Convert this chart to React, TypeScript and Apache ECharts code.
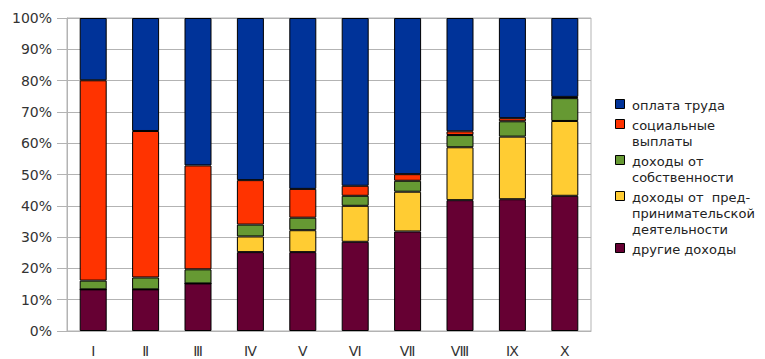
import React, { useEffect, useRef } from "react";
import * as echarts from "echarts";

// Income structure by decile group, percent of total income
const categories = ["Ⅰ", "Ⅱ", "Ⅲ", "Ⅳ", "Ⅴ", "Ⅵ", "Ⅶ", "Ⅷ", "Ⅸ", "Ⅹ"];

const otherIncome = [13.3, 13.3, 15.2, 25.2, 25.2, 28.5, 31.8, 41.8, 42.1, 43.2];
const businessIncome = [0, 0, 0, 5, 7, 11.5, 12.7, 16.9, 20, 23.9];
const propertyIncome = [2.8, 3.8, 4.5, 3.8, 4, 3.2, 3.5, 3.9, 4.9, 7.3];
const socialPayments = [64, 46.8, 33.2, 14.2, 9.2, 3.2, 2.1, 1.2, 1.0, 0.4];
const wages = [19.9, 36.1, 47.1, 51.8, 54.6, 53.6, 49.9, 36.2, 32, 25.2];

// Stack order, bottom to top
const seriesNames = [
  "другие доходы",
  "доходы от  пред-\nпринимательской\nдеятельности",
  "доходы от\nсобственности",
  "социальные\nвыплаты",
  "оплата труда",
];
const seriesData = [otherIncome, businessIncome, propertyIncome, socialPayments, wages];
const seriesColors = ["#660033", "#ffcc33", "#669933", "#ff3300", "#003399"];

const FONT = "'DejaVu Sans', Verdana, sans-serif";

function buildLegend(): any[] {
  const elements: any[] = [];
  const lineH = 16;
  const gap = 4;
  let y = 97;
  // legend lists top of the stack first
  for (let i = seriesNames.length - 1; i >= 0; i--) {
    const lines = seriesNames[i].split("\n");
    elements.push({
      type: "rect",
      shape: { x: 615.5, y: y + 2.5, width: 9, height: 9 },
      style: { fill: seriesColors[i], stroke: "#000", lineWidth: 1 },
    });
    elements.push({
      type: "text",
      x: 632,
      y: y,
      style: {
        text: lines.join("\n"),
        font: `13px ${FONT}`,
        fill: "#222",
        lineHeight: lineH,
        verticalAlign: "top",
      },
    });
    y += lines.length * lineH + gap;
  }
  return elements;
}

export default function App() {
  const ref = useRef<HTMLDivElement>(null);

  useEffect(() => {
    if (!ref.current) return;
    const chart = echarts.init(ref.current, undefined, { renderer: "svg" });
    chart.setOption({
      animation: false,
      backgroundColor: "#fff",
      grid: {
        left: 67,
        right: 174,
        top: 18,
        bottom: 28,
        outerBoundsMode: "none",
        show: true,
        borderColor: "#b3b3b3",
        borderWidth: 1,
      },
      xAxis: {
        type: "category",
        data: categories,
        axisLine: { lineStyle: { color: "#b3b3b3" } },
        axisTick: { alignWithLabel: true, length: 5, lineStyle: { color: "#b3b3b3" } },
        axisLabel: { color: "#333", fontSize: 14, fontFamily: FONT, margin: 13 },
      },
      yAxis: {
        type: "value",
        min: 0,
        max: 100,
        interval: 10,
        axisLine: { show: true, lineStyle: { color: "#b3b3b3" } },
        axisTick: { show: true, length: 10, lineStyle: { color: "#b3b3b3" } },
        splitLine: { lineStyle: { color: "#b3b3b3" } },
        axisLabel: {
          formatter: "{value}%",
          color: "#333",
          fontSize: 14,
          fontFamily: FONT,
          margin: 15,
        },
      },
      series: seriesNames.map((name, i) => ({
        type: "bar",
        name,
        stack: "total",
        data: seriesData[i],
        barWidth: 27,
        itemStyle: { color: seriesColors[i], borderColor: "#000", borderWidth: 1 },
      })),
      graphic: buildLegend(),
    });
    return () => chart.dispose();
  }, []);

  return (
    <div
      ref={ref}
      style={{ position: "fixed", left: 0, top: 0, width: 765, height: 359 }}
    />
  );
}
